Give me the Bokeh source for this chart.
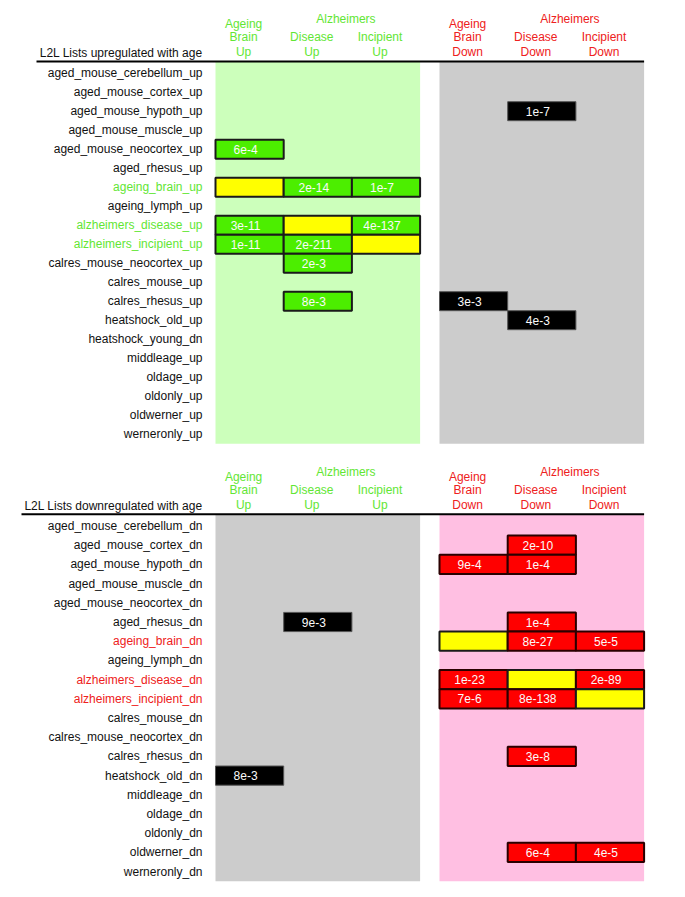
from bokeh.plotting import figure
from bokeh.layouts import column
from bokeh.models import Range1d, ColumnDataSource
from bokeh.core.properties import value
from bokeh.embed import file_html
from bokeh.resources import INLINE

# ---------------- data ----------------
col_line1 = ["Ageing", "", "", "Ageing", "", ""]
col_line2 = ["Brain", "Disease", "Incipient", "Brain", "Disease", "Incipient"]
col_line3 = ["Up", "Up", "Up", "Down", "Down", "Down"]
group_label = "Alzheimers"
group_cols = [[1, 2], [4, 5]]

up_title = "L2L Lists upregulated with age"
up_rows = ["aged_mouse_cerebellum_up", "aged_mouse_cortex_up", "aged_mouse_hypoth_up",
           "aged_mouse_muscle_up", "aged_mouse_neocortex_up", "aged_rhesus_up",
           "ageing_brain_up", "ageing_lymph_up", "alzheimers_disease_up",
           "alzheimers_incipient_up", "calres_mouse_neocortex_up", "calres_mouse_up",
           "calres_rhesus_up", "heatshock_old_up", "heatshock_young_dn", "middleage_up",
           "oldage_up", "oldonly_up", "oldwerner_up", "werneronly_up"]
up_highlight = ["ageing_brain_up", "alzheimers_disease_up", "alzheimers_incipient_up"]
up_cell_rows = ["aged_mouse_hypoth_up", "aged_mouse_neocortex_up",
                "ageing_brain_up", "ageing_brain_up", "ageing_brain_up",
                "alzheimers_disease_up", "alzheimers_disease_up", "alzheimers_disease_up",
                "alzheimers_incipient_up", "alzheimers_incipient_up", "alzheimers_incipient_up",
                "calres_mouse_neocortex_up", "calres_rhesus_up", "calres_rhesus_up",
                "heatshock_old_up"]
up_cell_cols = [4, 0, 0, 1, 2, 0, 1, 2, 0, 1, 2, 1, 1, 3, 4]
up_cell_text = ["1e-7", "6e-4", "", "2e-14", "1e-7", "3e-11", "", "4e-137",
                "1e-11", "2e-211", "", "2e-3", "8e-3", "3e-3", "4e-3"]

dn_title = "L2L Lists downregulated with age"
dn_rows = ["aged_mouse_cerebellum_dn", "aged_mouse_cortex_dn", "aged_mouse_hypoth_dn",
           "aged_mouse_muscle_dn", "aged_mouse_neocortex_dn", "aged_rhesus_dn",
           "ageing_brain_dn", "ageing_lymph_dn", "alzheimers_disease_dn",
           "alzheimers_incipient_dn", "calres_mouse_dn", "calres_mouse_neocortex_dn",
           "calres_rhesus_dn", "heatshock_old_dn", "middleage_dn", "oldage_dn",
           "oldonly_dn", "oldwerner_dn", "werneronly_dn"]
dn_highlight = ["ageing_brain_dn", "alzheimers_disease_dn", "alzheimers_incipient_dn"]
dn_cell_rows = ["aged_mouse_cortex_dn", "aged_mouse_hypoth_dn", "aged_mouse_hypoth_dn",
                "aged_rhesus_dn", "aged_rhesus_dn",
                "ageing_brain_dn", "ageing_brain_dn", "ageing_brain_dn",
                "alzheimers_disease_dn", "alzheimers_disease_dn", "alzheimers_disease_dn",
                "alzheimers_incipient_dn", "alzheimers_incipient_dn", "alzheimers_incipient_dn",
                "calres_rhesus_dn", "heatshock_old_dn", "oldwerner_dn", "oldwerner_dn"]
dn_cell_cols = [4, 3, 4, 1, 4, 3, 4, 5, 3, 4, 5, 3, 4, 5, 4, 0, 4, 5]
dn_cell_text = ["2e-10", "9e-4", "1e-4", "9e-3", "1e-4", "", "8e-27", "5e-5",
                "1e-23", "", "2e-89", "7e-6", "8e-138", "", "3e-8", "8e-3", "6e-4", "4e-5"]

# ---------------- style / layout ----------------
FONT = value("Liberation Sans")
GREEN_TXT = "#62e634"
RED_TXT = "#ee2020"
GREEN_BG = "#ccffbb"
GREY_BG = "#cccccc"
PINK_BG = "#ffbfe2"
GREEN_BOX = "#4cee00"
RED_BOX = "#ff0000"
YELLOW_BOX = "#ffff00"

ORIGIN = 0          # page offset of the layout
PAGE_W = 677
COL_W = 68.2
X0_PX = 215.0
GAP = (439.0 - X0_PX) / COL_W - 3


def col_left(c):
    return c + (GAP if c >= 3 else 0.0)


def panel(title, rows, highlight, cell_rows, cell_cols, cell_text, own_cols,
          own_fill, own_line, own_txt, own_bg, fig_top, height, row0, pitch,
          line_start_px):
    p = figure(width=PAGE_W, height=height, output_backend="svg",
               toolbar_location=None, x_axis_type=None, y_axis_type=None,
               min_border=0, outline_line_color=None,
               x_range=Range1d((ORIGIN - X0_PX) / COL_W, (ORIGIN + PAGE_W - X0_PX) / COL_W),
               y_range=Range1d((fig_top + height - row0) / pitch, (fig_top - row0) / pitch))
    p.grid.visible = False
    n = len(rows)
    top_edge = -11.7 / pitch
    # backgrounds
    grp_left = [col_left(0), col_left(3)]
    grp_bg = [own_bg if 0 in own_cols else GREY_BG, own_bg if 3 in own_cols else GREY_BG]
    p.quad(left=grp_left, right=[g + 3 for g in grp_left], top=[top_edge] * 2,
           bottom=[n - 0.5] * 2, fill_color=grp_bg, line_color=None)
    # header line
    p.segment(x0=[(line_start_px - X0_PX) / COL_W], x1=[col_left(3) + 3],
              y0=[top_edge], y1=[top_edge], line_color="black", line_width=2)
    # boxes
    idx = [rows.index(r) for r in cell_rows]
    fills, lines, lws = [], [], []
    for c, t in zip(cell_cols, cell_text):
        if t == "":
            fills.append(YELLOW_BOX); lines.append("#1a1a1a"); lws.append(2)
        elif c in own_cols:
            fills.append(own_fill); lines.append(own_line); lws.append(2)
        else:
            fills.append("#000000"); lines.append("#555555"); lws.append(1)
    src = ColumnDataSource(dict(
        left=[col_left(c) for c in cell_cols], right=[col_left(c) + 1 for c in cell_cols],
        top=[i - 0.5 for i in idx], bottom=[i + 0.5 for i in idx],
        fill=fills, line=lines, lw=lws,
        xc=[col_left(c) + 0.5 for c in cell_cols], yc=idx, txt=cell_text))
    p.quad(left="left", right="right", top="top", bottom="bottom", fill_color="fill",
           line_color="line", line_width="lw", source=src)
    p.text(x="xc", y="yc", text="txt", source=src, text_font=FONT,
           text_font_size="12px", text_color="#fafafa", text_align="center",
           text_baseline="middle", x_offset=-4)
    # row labels
    lab_x = (202 - X0_PX) / COL_W
    colors = [own_txt if r in highlight else "#111111" for r in rows]
    p.text(x=[lab_x] * n, y=list(range(n)), text=rows, text_color=colors,
           text_font=FONT, text_font_size="12px", text_align="right",
           text_baseline="middle")
    # title
    p.text(x=[lab_x], y=[-20.5 / pitch], text=[title], text_color="#111111",
           text_font=FONT, text_font_size="12px", text_align="right",
           text_baseline="middle")
    # column headers
    hx, hy, ht, hc = [], [], [], []
    for c in range(6):
        ctxt = GREEN_TXT if c < 3 else RED_TXT
        for txt, off in ((col_line1[c], -49.5), (col_line2[c], -36.0), (col_line3[c], -21.5)):
            if txt:
                hx.append(col_left(c) + 0.5); hy.append(off / pitch); ht.append(txt); hc.append(ctxt)
    for g in group_cols:
        ctxt = GREEN_TXT if g[0] < 3 else RED_TXT
        hx.append((col_left(g[0]) + col_left(g[1]) + 1) / 2); hy.append(-54.0 / pitch)
        ht.append(group_label); hc.append(ctxt)
    p.text(x=hx, y=hy, text=ht, text_color=hc, text_font=FONT, text_font_size="12px",
           text_align="center", text_baseline="middle", x_offset=-6)
    return p


p1 = panel(up_title, up_rows, up_highlight, up_cell_rows, up_cell_cols, up_cell_text,
           [0, 1, 2], GREEN_BOX, "#1a1a1a", GREEN_TXT, GREEN_BG,
           fig_top=0, height=452, row0=72.7, pitch=19.0, line_start_px=36)
p2 = panel(dn_title, dn_rows, dn_highlight, dn_cell_rows, dn_cell_cols, dn_cell_text,
           [3, 4, 5], RED_BOX, "#2a0000", RED_TXT, PINK_BG,
           fig_top=452, height=437, row0=525.5, pitch=19.2, line_start_px=21)

layout = column(p1, p2, spacing=0)
open("out.html", "w").write(file_html(layout, INLINE))
